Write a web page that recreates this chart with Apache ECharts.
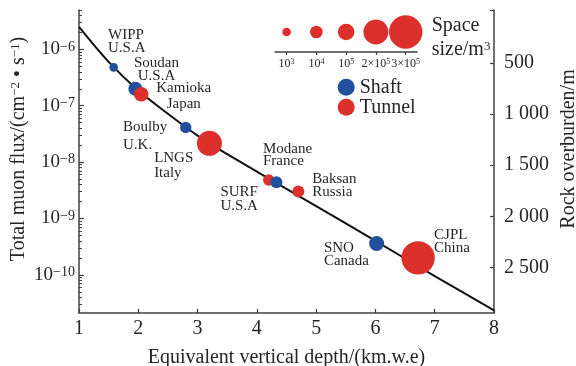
<!DOCTYPE html>
<html><head><meta charset="utf-8">
<script src="https://cdn.jsdelivr.net/npm/echarts@6/dist/echarts.min.js"></script>
<style>html,body{margin:0;padding:0;background:#fff}#c{width:576px;height:366px}</style>
</head><body><div id="c"></div>
<script>
// ---------- data ----------
const labNames     = ['WIPP','Soudan','Kamioka','Boulby','LNGS','SURF','Modane','Baksan','SNO','CJPL'];
const labCountries = ['U.S.A','U.S.A','Japan','U.K.','Italy','U.S.A','France','Russia','Canada','China'];
const labTypes     = ['Shaft','Shaft','Tunnel','Shaft','Tunnel','Tunnel','Shaft','Tunnel','Shaft','Tunnel'];
const labDepth     = [1.585, 1.95, 2.05, 2.80, 3.20, 4.20, 4.33, 4.70, 6.02, 6.72];           // km.w.e
const labFlux      = [4.8e-7, 2.0e-7, 1.6e-7, 4.1e-8, 2.15e-8, 4.8e-9, 4.4e-9, 3.0e-9, 3.6e-10, 2.0e-10];
const labSpace     = [1e3, 2.2e4, 3.2e4, 5e3, 2e5, 5e3, 7e3, 7e3, 4e4, 3e5];                 // m^3
const curveDepth   = [1, 1.5, 2, 2.5, 3, 3.5, 4, 5, 6, 7, 8];
const curveFlux    = [2.51e-6, 6.0e-7, 1.86e-7, 7.2e-8, 2.95e-8, 1.38e-8, 6.8e-9, 1.66e-9, 4.0e-10, 9.5e-11, 2.34e-11];
const xTicks       = [1, 2, 3, 4, 5, 6, 7, 8];
const fluxTickExp  = [-10, -9, -8, -7, -6];
const overburdenTicks  = [500, 1000, 1500, 2000, 2500];
const overburdenLabels = ['500', '1 000', '1 500', '2 000', '2 500'];
const sizeLegendValues = [1e3, 1e4, 1e5, 2e5, 3e5];
const sizeLegendLabels = ['10{s|3}', '10{s|4}', '10{s|5}', '2×10{s|5}', '3×10{s|5}'];

// ---------- styles ----------
const FONT = 'Liberation Serif';
const RED = '#db302c', BLUE = '#22509e', TXT = '#262626', AX = '#404040';
const labelStyle = [
  {off:[-5.7,-39.4], align:'left',   lh:13.6},
  {off:[21.2,-32.7], align:'center', lh:13.4},
  {off:[42.5,-13.8], align:'center', lh:15.7},
  {off:[-62.7,-9.2], align:'left',   lh:17.7},
  {off:[-55.3,7.8],  align:'left',   lh:14.4},
  {off:[-48.3,4.5],  align:'left',   lh:14.3},
  {off:[-13.4,-39.7],align:'left',   lh:12.7},
  {off:[14,-19],     align:'left',   lh:12.7},
  {off:[-52.7,-1.3], align:'left',   lh:12.7},
  {off:[16,-28.8],   align:'left',   lh:13}
];
function sizePos(v){ return v <= 1e5 ? Math.log10(v) - 3 : 2 + (v - 1e5) / 1e5; }
function radius(v){ const p = sizePos(v); return p <= 2 ? 4.3 + 2 * p : 8.3 + 4.2 * (p - 2); }

const yMin = Math.log10(2.1e-11), yMax = Math.log10(5e-6);
const minorTicks = [];
for (let n = -11; n <= -6; n++) for (let k = 2; k <= 9; k++) {
  const v = Math.log10(k * Math.pow(10, n));
  if (v > yMin && v < yMax) minorTicks.push(v);
}
minorTicks.push(yMax);

const chart = echarts.init(document.getElementById('c'), null, {renderer:'canvas'});
const option = {
  animation: false,
  backgroundColor: '#fff',
  textStyle: {fontFamily: FONT, color: TXT},
  grid: [
    {left: 79, right: 82, top: 10, bottom: 53, containLabel: false, outerBoundsMode: 'none'},
    {left: 275, width: 142, top: 12, height: 40, containLabel: false, outerBoundsMode: 'none'}
  ],
  legend: {
    data: ['Shaft', 'Tunnel'], orient: 'vertical', left: 337.7, top: 77.3, padding: 0,
    itemWidth: 17, itemHeight: 17, itemGap: 0, icon: 'circle', selectedMode: false,
    itemStyle: {opacity: 1},
    textStyle: {fontFamily: FONT, fontSize: 20, color: TXT, lineHeight: 20}
  },
  xAxis: [
    {
      type: 'value', gridIndex: 0, min: 1, max: 8, interval: 1,
      name: 'Equivalent vertical depth/(km.w.e)', nameLocation: 'middle', nameGap: 35,
      nameMoveOverlap: false,
      nameTextStyle: {fontFamily: FONT, fontSize: 20, color: TXT},
      axisLine: {onZero: false, lineStyle: {color: AX, width: 1.5}},
      axisTick: {inside: true, length: 4, lineStyle: {color: AX, width: 1.2}},
      axisLabel: {fontFamily: FONT, fontSize: 20, color: TXT, margin: 6},
      splitLine: {show: false}
    },
    {
      type: 'value', gridIndex: 1, min: -0.39, max: 4.38,
      axisLine: {onZero: false, lineStyle: {color: AX, width: 1.5}},
      axisTick: {customValues: [0,1,2,3,4], length: 3, lineStyle: {color: AX, width: 1.2}},
      axisLabel: {
        customValues: [0,1,2,3,4], margin: 6, fontFamily: FONT, fontSize: 12, color: TXT,
        hideOverlap: false, showMinLabel: true, showMaxLabel: true,
        formatter: v => sizeLegendLabels[Math.round(v)],
        rich: {s: {fontFamily: FONT, fontSize: 8, verticalAlign: 'top', color: TXT}}
      },
      splitLine: {show: false}
    }
  ],
  yAxis: [
    {
      type: 'value', gridIndex: 0, min: yMin, max: yMax, position: 'left',
      name: 'Total muon flux/(cm{s|−2} • s{s|−1})', nameLocation: 'middle', nameGap: 50,
      nameMoveOverlap: false,
      nameTextStyle: {fontFamily: FONT, fontSize: 20, color: TXT, padding: [0, 0, 0, 25],
        rich: {s: {fontFamily: FONT, fontSize: 13, verticalAlign: 'top', color: TXT}}},
      axisLine: {onZero: false, lineStyle: {color: AX, width: 1.5}},
      axisTick: {inside: true, length: 5, customValues: fluxTickExp, lineStyle: {color: AX, width: 1.2}},
      axisLabel: {
        customValues: fluxTickExp, margin: 4, fontFamily: FONT, fontSize: 19, color: TXT,
        formatter: v => '10{s|−' + Math.round(-v) + '}',
        rich: {s: {fontFamily: FONT, fontSize: 14, verticalAlign: 'top', color: TXT}}
      },
      splitLine: {show: false}
    },
    {
      type: 'value', gridIndex: 0, min: -19, max: 2946, inverse: true, position: 'right',
      name: 'Rock overburden/m', nameLocation: 'middle', nameGap: 65,
      nameMoveOverlap: false,
      nameTextStyle: {fontFamily: FONT, fontSize: 20, color: TXT, padding: [0, 0, 0, 25]},
      axisLine: {onZero: false, lineStyle: {color: AX, width: 1.5}},
      axisTick: {inside: true, length: 4, customValues: overburdenTicks.concat([-19]), lineStyle: {color: AX, width: 1.2}},
      axisLabel: {
        customValues: overburdenTicks, margin: 10, fontFamily: FONT, fontSize: 20, color: TXT,
        formatter: v => overburdenLabels[overburdenTicks.indexOf(Math.round(v))]
      },
      splitLine: {show: false}
    },
    {
      type: 'value', gridIndex: 0, min: yMin, max: yMax, position: 'left', offset: 0,
      axisLine: {show: false, onZero: false},
      axisTick: {inside: true, length: 3, customValues: minorTicks, lineStyle: {color: AX, width: 1}},
      axisLabel: {show: false},
      splitLine: {show: false}
    },
    {
      type: 'value', gridIndex: 1, min: 0, max: 1, show: false
    }
  ],
  series: [
    {
      type: 'line', xAxisIndex: 0, yAxisIndex: 0, z: 1, smooth: 0.3, symbol: 'none', silent: true,
      data: curveDepth.map((x, i) => [x, Math.log10(curveFlux[i])]),
      lineStyle: {color: '#111', width: 2}
    },
    {
      type: 'scatter', name: 'Labs', xAxisIndex: 0, yAxisIndex: 0, z: 3,
      data: labDepth.map((x, i) => ({
        value: [x, Math.log10(labFlux[i])],
        symbolSize: 2 * radius(labSpace[i]),
        itemStyle: {color: labTypes[i] === 'Shaft' ? BLUE : RED, opacity: 1},
        label: {
          show: true, position: 'inside', offset: labelStyle[i].off,
          align: labelStyle[i].align, verticalAlign: 'top', lineHeight: labelStyle[i].lh,
          fontFamily: FONT, fontSize: 15, color: TXT,
          formatter: labNames[i] + '\n' + labCountries[i]
        }
      }))
    },
    {type: 'scatter', name: 'Shaft', xAxisIndex: 0, yAxisIndex: 0, data: [], itemStyle: {color: BLUE, opacity: 1}},
    {type: 'scatter', name: 'Tunnel', xAxisIndex: 0, yAxisIndex: 0, data: [], itemStyle: {color: RED, opacity: 1}},
    {
      type: 'scatter', name: 'SizeLegend', xAxisIndex: 1, yAxisIndex: 3, silent: true,
      data: sizeLegendValues.map((v, i) => ({value: [i, 0.5], symbolSize: 2 * radius(v)})),
      itemStyle: {color: RED, opacity: 1}
    }
  ],
  graphic: [
    {type: 'text', x: 431.7, y: 25.7, style: {text: 'Space', font: '20px "Liberation Serif"', fill: TXT, verticalAlign: 'middle'}},
    {type: 'text', x: 431.7, y: 50, style: {text: 'size/m{s|3}', font: '20px "Liberation Serif"', fill: TXT, verticalAlign: 'middle',
      rich: {s: {fontFamily: FONT, fontSize: 13, verticalAlign: 'top', fill: TXT}}}}
  ]
};
chart.setOption(option);
</script></body></html>
